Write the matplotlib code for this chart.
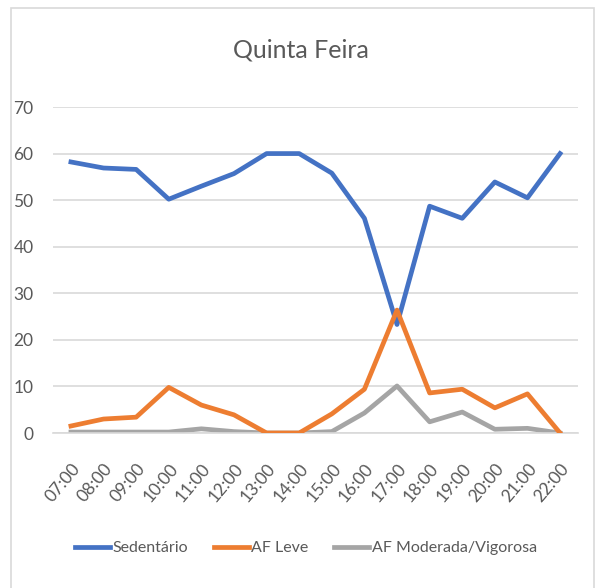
import matplotlib
matplotlib.use("Agg")
import matplotlib.pyplot as plt
from matplotlib.patches import Rectangle

plt.rcParams['font.family'] = ['Lato', 'DejaVu Sans']

hours = ["07:00", "08:00", "09:00", "10:00", "11:00", "12:00", "13:00", "14:00",
         "15:00", "16:00", "17:00", "18:00", "19:00", "20:00", "21:00", "22:00"]
sedentario = [58.2, 56.9, 56.6, 50.2, 53.0, 55.7, 60.0, 60.0,
              55.8, 46.1, 23.3, 48.7, 46.1, 53.9, 50.5, 60.0]
af_leve = [1.5, 3.0, 3.4, 9.8, 6.0, 3.9, 0.0, 0.0,
           4.1, 9.4, 26.4, 8.6, 9.4, 5.4, 8.4, 0.0]
af_moderada = [0.2, 0.2, 0.2, 0.2, 0.9, 0.3, 0.0, 0.0,
               0.3, 4.3, 10.1, 2.4, 4.5, 0.8, 1.0, 0.0]

text_color = "#595959"

fig = plt.figure(figsize=(6.02, 5.88), dpi=100)
ax = fig.add_axes([53 / 602, 1 - 433 / 588, (578 - 53) / 602, (433 - 107) / 588])

x = range(len(hours))
ax.plot(x, sedentario, color="#4472C4", lw=3.4, label="Sedentário", solid_joinstyle="round", zorder=3)
ax.plot(x, af_leve, color="#ED7D31", lw=3.4, label="AF Leve", solid_joinstyle="round", zorder=3)
ax.plot(x, af_moderada, color="#A5A5A5", lw=3.4, label="AF Moderada/Vigorosa", solid_joinstyle="round", zorder=2)

ax.set_ylim(0, 70)
ax.set_yticks(range(0, 71, 10))
ax.set_xlim(-0.55, len(hours) - 0.45)
ax.set_xticks(list(x))
ax.set_xticklabels(hours, rotation=50, ha="right", rotation_mode="anchor")
ax.tick_params(axis="both", length=0, colors=text_color, labelsize=12.5)
ax.tick_params(axis="x", pad=20)
ax.tick_params(axis="y", pad=14)

ax.grid(axis="y", color="#D9D9D9", lw=1.2)
ax.set_axisbelow(True)
for s in ["top", "right", "left"]:
    ax.spines[s].set_visible(False)
ax.spines["bottom"].set_color("#D9D9D9")
ax.spines["bottom"].set_linewidth(1.2)

fig.text(0.5, 1 - 50 / 588, "Quinta Feira", ha="center", va="center", fontsize=18, color=text_color)

ax.legend(loc="center", bbox_to_anchor=(0.508, 1 - 548 / 588), bbox_transform=fig.transFigure,
          ncol=3, frameon=False, fontsize=11.5, labelcolor=text_color,
          handlelength=2.2, handletextpad=0.15, columnspacing=1.6)

fig.patches.append(Rectangle((11 / 602, -0.01), (594 - 11) / 602, 1 - 8 / 588 + 0.01,
                             transform=fig.transFigure, fill=False, edgecolor="#D9D9D9", lw=1.2))

fig.savefig("out.png", dpi=100)
